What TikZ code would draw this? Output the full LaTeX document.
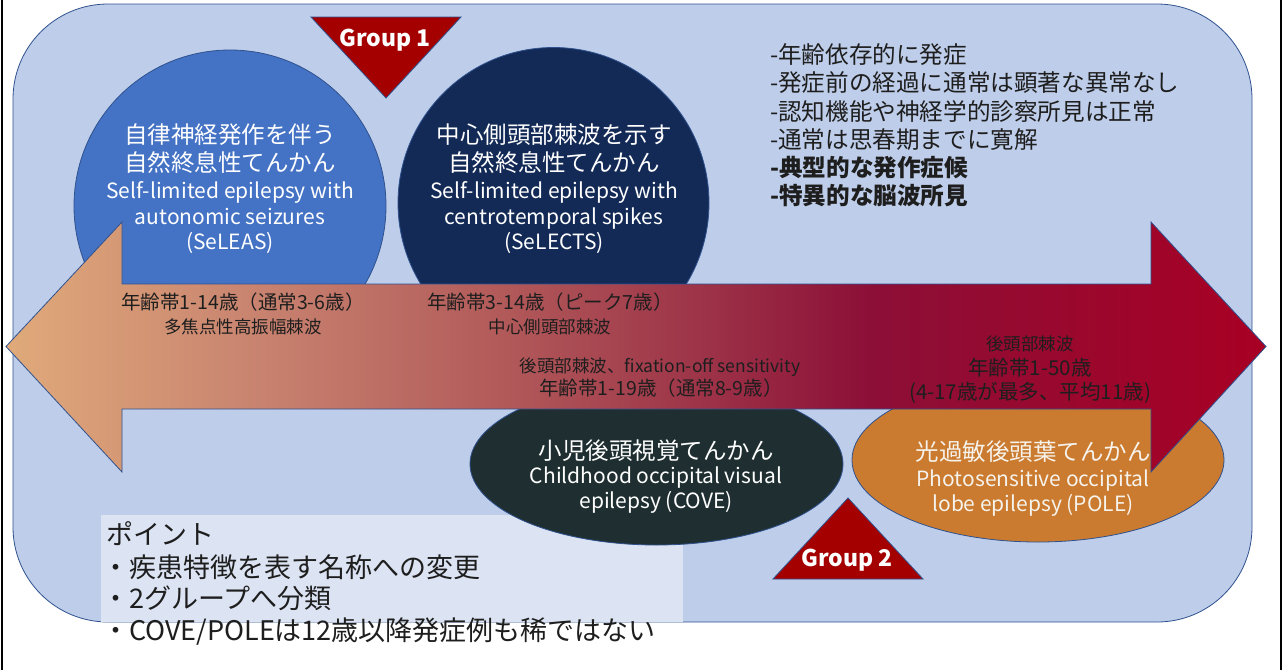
\documentclass[tikz,border=0pt]{standalone}
\usepackage{fontspec}
\setmainfont{Noto Sans CJK JP}
\usetikzlibrary{shapes.geometric}
\definecolor{bgblue}{HTML}{BECDE9}
\definecolor{edgeblue}{HTML}{2F528F}
\definecolor{pointbox}{HTML}{DCE4F3}
\definecolor{circA}{HTML}{4472C4}
\definecolor{circB}{HTML}{132A57}
\definecolor{coveC}{HTML}{1F2F31}
\definecolor{poleC}{HTML}{CA7B2F}
\definecolor{grpred}{HTML}{A50000}
\definecolor{darktext}{HTML}{1E1E1E}
\definecolor{lighttext}{HTML}{F6F2EC}
\definecolor{arA}{HTML}{E0AA7A}
\definecolor{arB}{HTML}{C98470}
\definecolor{arC}{HTML}{B25A5A}
\definecolor{arD}{HTML}{9D3448}
\definecolor{arE}{HTML}{8C0F37}
\definecolor{arF}{HTML}{A80024}
\pgfdeclarehorizontalshading{arrowshade}{100bp}{color(0bp)=(arA); color(25bp)=(arA); color(34.7bp)=(arB); color(44.6bp)=(arC); color(52.5bp)=(arD); color(59.3bp)=(arE); color(75bp)=(arF); color(100bp)=(arF)}
\begin{document}
\begin{tikzpicture}[x=1pt,y=-1pt,
  shape border/.style={draw=edgeblue, line width=0.8pt},
  blob/.style={shape border, inner sep=0pt},
  grp/.style={shape border, fill=grpred},
  txt/.style={inner sep=0pt, text=darktext},
  wtxt/.style={inner sep=0pt, text=white, align=center},
  jp/.style={font=\fontsize{23.5}{28}\selectfont},
  en/.style={font=\fontsize{21}{25.5}\selectfont},
  small/.style={font=\fontsize{17.5}{21}\selectfont},
  age/.style={font=\fontsize{19.5}{23}\selectfont},
  side/.style={txt, anchor=west, font=\fontsize{23.6}{28}\selectfont},
  sideb/.style={side, font=\fontsize{23.6}{28}\selectfont\bfseries},
  pt/.style={txt, anchor=west, font=\fontsize{27}{32}\selectfont},
  grptxt/.style={inner sep=0pt, text=white, font=\fontsize{23}{27}\selectfont\bfseries}
]
\useasboundingbox (0,0) rectangle (1283,670);
\fill[white] (0,0) rectangle (1283,670);
\draw[black, line width=2pt] (2,0) -- (2,670);
\draw[black, line width=2pt] (1281,0) -- (1281,670);
% background panel
\draw[shape border, fill=bgblue, rounded corners=95pt] (13,4) rectangle (1252,622);
% circles
\node[blob, circle, fill=circA, minimum size=312pt] (c1) at (230,206) {};
\node[blob, circle, fill=circB, minimum size=311pt] (c2) at (553.5,203) {};
% group 1
\draw[grp] (311,17) -- (461,17) -- (386,98) -- cycle;
\node[grptxt] (g1) at (385,40) {Group 1};
% point box
\fill[pointbox] (101,515) rectangle (683,622);
% ellipses
\node[blob, ellipse, fill=coveC, minimum width=373pt, minimum height=162pt] (cove) at (656.5,464) {};
\node[blob, ellipse, fill=poleC, minimum width=372pt, minimum height=164pt] (pole) at (1038,460) {};
% group 2
\draw[grp] (848,498) -- (923,579) -- (773,579) -- cycle;
\node[grptxt] (g2) at (847,560) {Group 2};
% arrow
\path[shade, shading=arrowshade, draw=edgeblue, line width=0.8pt]
  (6,346.5) -- (122,222) -- (122,284) -- (1151,284) -- (1151,222) -- (1266,346.5)
  -- (1151,472) -- (1151,409) -- (122,409) -- (122,472) -- cycle;
% circle texts
\node[wtxt, jp] (c1jp) at (230,149) {自律神経発作を伴う\\自然終息性てんかん};
\node[wtxt, en] (c1en) at (230,218) {Self-limited epilepsy with\\autonomic seizures\\(SeLEAS)};
\node[wtxt, jp] (c2jp) at (554,149) {中心側頭部棘波を示す\\自然終息性てんかん};
\node[wtxt, en] (c2en) at (554,218) {Self-limited epilepsy with\\centrotemporal spikes\\(SeLECTS)};
\node[wtxt, jp] (covejp) at (656,451) {小児後頭視覚てんかん};
\node[wtxt, en] (coveen) at (656,490) {Childhood occipital visual\\epilepsy (COVE)};
\node[wtxt, jp, text=lighttext] (polejp) at (1033,452) {光過敏後頭葉てんかん};
\node[wtxt, en, text=lighttext] (poleen) at (1033,493) {Photosensitive occipital\\lobe epilepsy (POLE)};
% arrow texts
\node[txt, age] (a1) at (243,302) {年齢帯1-14歳（通常3-6歳）};
\node[txt, small] (a2) at (243,327) {多焦点性高振幅棘波};
\node[txt, age] (a3) at (550,302) {年齢帯3-14歳（ピーク7歳）};
\node[txt, small] (a4) at (550,327) {中心側頭部棘波};
\node[txt, small] (a5) at (660,367) {後頭部棘波、fixation-off sensitivity};
\node[txt, age] (a6) at (661,388) {年齢帯1-19歳（通常8-9歳）};
\node[txt, small] (a7) at (1030,344) {後頭部棘波};
\node[txt, font=\fontsize{20.5}{24}\selectfont] (a8) at (1030,368) {年齢帯1-50歳};
\node[txt, font=\fontsize{20.5}{24}\selectfont] (a9) at (1030,393) {(4-17歳が最多、平均11歳)};
% side notes
\node[side] (s1) at (770,55) {-年齢依存的に発症};
\node[side] (s2) at (770,83) {-発症前の経過に通常は顕著な異常なし};
\node[side] (s3) at (770,111) {-認知機能や神経学的診察所見は正常};
\node[side] (s4) at (770,140) {-通常は思春期までに寛解};
\node[sideb] (s5) at (770,168) {-典型的な発作症候};
\node[sideb] (s6) at (770,196) {-特異的な脳波所見};
% point texts
\node[pt] (p0) at (106,534) {ポイント};
\node[pt] (p1) at (102,567) {・疾患特徴を表す名称への変更};
\node[pt] (p2) at (102,598) {・2グループへ分類};
\node[pt] (p3) at (102,632) {・COVE/POLEは12歳以降発症例も稀ではない};
\end{tikzpicture}
\end{document}
